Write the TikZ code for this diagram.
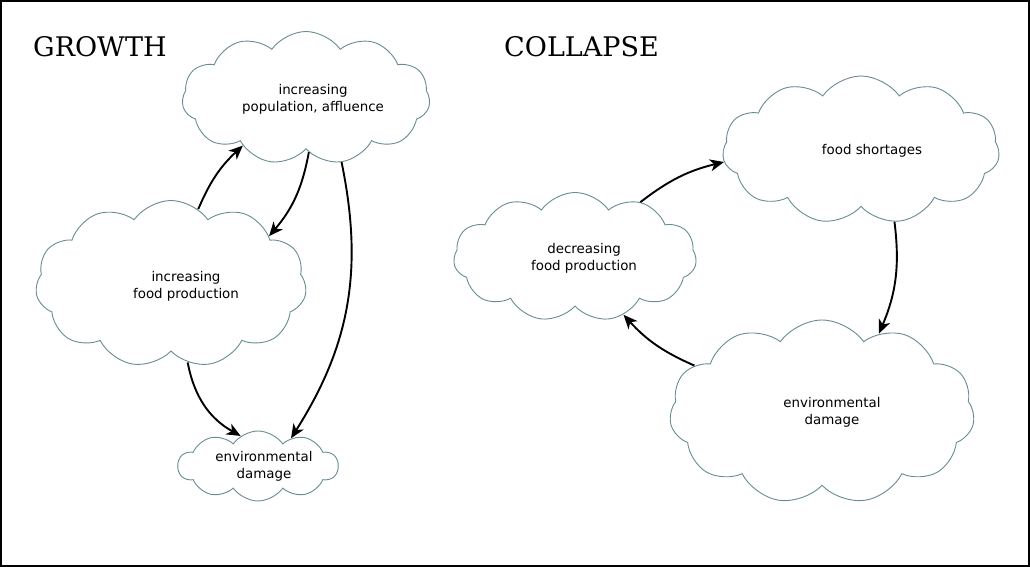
\documentclass[tikz,border=0pt]{standalone}
\usepackage{fontspec}
\setmainfont{DejaVu Sans}
\newfontfamily\titlefont{DejaVu Serif}
\usetikzlibrary{shapes.symbols,arrows.meta}
\definecolor{cloudline}{RGB}{104,140,145}
\tikzset{
  cloudbox/.style={cloud, cloud puffs=11, cloud puff arc=110, cloud ignores aspect,
    draw=cloudline, line width=0.9pt, fill=white, inner sep=0pt},
  lbl/.style={align=center, font=\fontsize{13.4}{17}\selectfont, inner sep=0pt},
  ttl/.style={anchor=base west, font=\titlefont\fontsize{27}{30}\selectfont, inner sep=0pt},
  arr/.style={line width=1.9pt, -{Stealth[length=14pt,width=12pt,inset=4pt]}}
}
\begin{document}
\begin{tikzpicture}[x=1pt,y=-1pt]
\useasboundingbox (0,0) rectangle (1030,567);
\draw[line width=2pt] (1,1) rectangle (1029,566);

\node[ttl] (tg) at (33,57) {GROWTH};
\node[ttl] (tc) at (504,57) {COLLAPSE};

% growth clouds
\node[cloudbox, minimum width=248pt, minimum height=133pt] (pop) at (306,98) {};
\node[lbl] (popt) at (313,99) {increasing\\population, affluence};
\node[cloudbox, minimum width=271pt, minimum height=167pt] (food) at (171,284) {};
\node[lbl] (foodt) at (186,286) {increasing\\food production};
\node[cloudbox, minimum width=160pt, minimum height=70pt, cloud puffs=10] (env) at (258,466) {};
\node[lbl] (envt) at (264,466) {environmental\\damage};

% collapse clouds
\node[cloudbox, minimum width=277pt, minimum height=148pt] (short) at (861,150) {};
\node[lbl] (shortt) at (872,151) {food shortages};
\node[cloudbox, minimum width=243pt, minimum height=129pt] (dec) at (575,257) {};
\node[lbl] (dect) at (584,258) {decreasing\\food production};
\node[cloudbox, minimum width=305pt, minimum height=184pt] (cenv) at (822,412) {};
\node[lbl] (cenvt) at (832,412) {environmental\\damage};

% growth arrows
\draw[arr] (food.70) to[bend left=12] (pop.-143);
\draw[arr] (pop.-87) to[bend left=15] (food.26);
\draw[arr] (pop.-61) to[bend left=22] (env.40);
\draw[arr] (food.-78) to[bend right=25] (env.120);

% collapse arrows
\draw[arr] (dec.40) to[bend left=12] (short.-175);
\draw[arr] (short.-65) to[bend left=15] (cenv.54);
\draw[arr] (cenv.160) to[bend left=12] (dec.-50);
\end{tikzpicture}
\end{document}
